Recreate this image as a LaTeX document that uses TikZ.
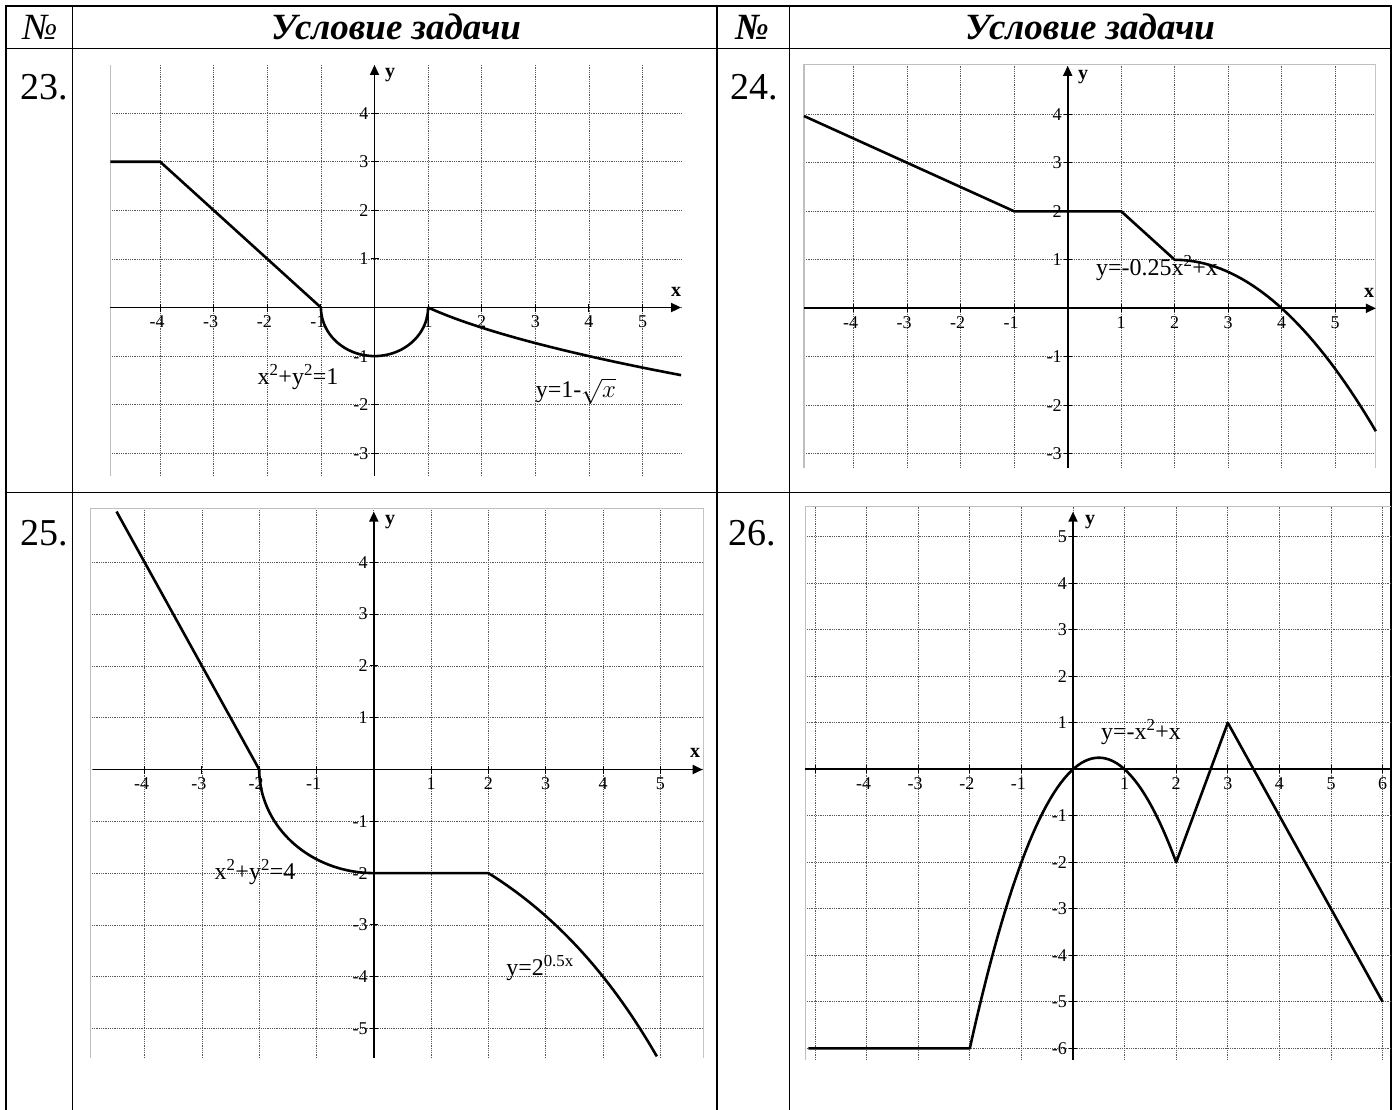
\documentclass[tikz,border=0pt]{standalone}
\usepackage{fontspec}
\setmainfont{Liberation Serif}
\usetikzlibrary{arrows.meta}
\tikzset{
 gridl/.style={black!65, line width=0.7pt, dash pattern=on 0.9pt off 0.9pt},
 framel/.style={black!25, line width=1.2pt},
 bluel/.style={blue!40!gray!35, line width=1.2pt},
 axisl/.style={line width=1.8pt},
 arrowax/.style={axisl, -{Triangle[length=10pt,width=9pt]}},
 curvel/.style={line width=2.6pt, line join=round},
 tickl/.style={line width=0.9pt},
 ticklab/.style={font=\fontsize{18}{18}\selectfont, inner sep=0pt},
 axlab/.style={font=\fontsize{20}{20}\selectfont\bfseries, inner sep=0pt},
 curvelab/.style={font=\fontsize{24}{24}\selectfont, inner sep=0pt},
 numlab/.style={font=\fontsize{38}{38}\selectfont, inner sep=0pt},
 headlab/.style={font=\fontsize{37}{37}\selectfont\bfseries\itshape, inner sep=0pt},
 headnum/.style={font=\fontsize{37}{37}\selectfont\itshape, inner sep=0pt},
 tablel/.style={line width=1.6pt},
}
\begin{document}
\begin{tikzpicture}[x=1pt,y=-1pt]
\useasboundingbox (0,0) rectangle (1398,1109);
\fill[white] (0,0) rectangle (1398,1109);

% ---------- table ----------
\draw[tablel] (6,1112) -- (6,5.7) -- (1390.7,5.7) -- (1390.7,1112);
\draw[tablel] (6,48.3) -- (1390.7,48.3);
\draw[tablel] (6,492.5) -- (1390.7,492.5);
\foreach \cx in {72.3,716.7,789.3} \draw[tablel] (\cx,5.7) -- (\cx,1112);

\node[headnum] (h1) at (40,27) {№};
\node[headlab] (h2) at (396,27) {Условие задачи};
\node[headlab] (h3) at (752,27) {№};
\node[headlab] (h4) at (1090,27) {Условие задачи};

\node[numlab] (n23) at (44,87) {23.};
\node[numlab] (n24) at (754,87) {24.};
\node[numlab] (n25) at (44,533) {25.};
\node[numlab] (n26) at (752,533) {26.};

% ---------- graph 23 ----------
\begin{scope}[shift={(374.5pt,-307.5pt)}, x=53.6pt, y=48.6pt]
 \foreach \i in {-4,...,5} \draw[gridl] (\i,-3.47) -- (\i,4.99);
 \foreach \j in {-3,...,4} \draw[gridl] (-4.93,\j) -- (5.72,\j);
 \draw[framel] (-4.93,-3.47) -- (-4.93,4.99);
 \draw[arrowax] (-4.93,0) -- (5.72,0);
 \draw[arrowax] (0,-3.47) -- (0,4.99);
 \foreach \i in {-4,...,-1,1,2,3,4,5} \draw[tickl] ([yshift=-4pt]\i,0) -- ([yshift=4pt]\i,0);
 \foreach \j in {-3,...,-1,1,2,3,4} \draw[tickl] ([xshift=-4pt]0,\j) -- ([xshift=4pt]0,\j);
 \foreach \i in {-4,...,-1} \node[ticklab] (a23x\i) at ([xshift=-3pt,yshift=-14pt]\i,0) {\i};
 \foreach \i in {1,...,5} \node[ticklab] (b23x\i) at ([yshift=-14pt]\i,0) {\i};
 \foreach \j in {-3,...,-1,1,2,3,4} \node[ticklab,anchor=east] (c23y\j) at ([xshift=-6pt]0,\j) {\j};
 \draw[curvel] (-4.93,3) -- (-4,3) -- (-1,0)
   -- plot[domain=180:360, samples=40] ({cos(\x)},{sin(\x)})
   -- plot[domain=1:5.72, samples=40] (\x,{1-sqrt(\x)});
\end{scope}
\node[axlab] (y23) at (390,75) {y};
\node[axlab] (x23) at (676,292) {x};
\node[curvelab] (l23a) at (298,377) {x\textsuperscript{2}+y\textsuperscript{2}=1};
\node[curvelab] (l23b) at (576,391) {y=1-$\sqrt{x}$};

% ---------- graph 24 ----------
\begin{scope}[shift={(1067.7pt,-308.3pt)}, x=53.5pt, y=48.5pt]
 \foreach \i in {-4,...,5} \draw[gridl] (\i,-3.29) -- (\i,5.03);
 \foreach \j in {-3,...,4} \draw[gridl] (-4.93,\j) -- (5.76,\j);
 \draw[framel] (-4.93,-3.29) -- (-4.93,5.03) -- (5.76,5.03);
 \draw[bluel] (5.76,5.03) -- (5.76,-3.29);
 \draw[arrowax] (-4.93,0) -- (5.76,0);
 \draw[arrowax] (0,-3.29) -- (0,5.0);
 \foreach \i in {-4,...,-1,1,2,3,4,5} \draw[tickl] ([yshift=-4pt]\i,0) -- ([yshift=4pt]\i,0);
 \foreach \j in {-3,...,-1,1,2,3,4} \draw[tickl] ([xshift=-4pt]0,\j) -- ([xshift=4pt]0,\j);
 \foreach \i in {-4,...,-1} \node[ticklab] (a24x\i) at ([xshift=-3pt,yshift=-14pt]\i,0) {\i};
 \foreach \i in {1,...,5} \node[ticklab] (b24x\i) at ([yshift=-14pt]\i,0) {\i};
 \foreach \j in {-3,...,-1,1,2,3,4} \node[ticklab,anchor=east] (c24y\j) at ([xshift=-6pt]0,\j) {\j};
 \draw[curvel] (-4.93,3.965) -- (-1,2) -- (1,2) -- (2,1)
   -- plot[domain=2:5.76, samples=40] (\x,{-0.25*\x*\x+\x});
\end{scope}
\node[axlab] (y24) at (1083,77) {y};
\node[axlab] (x24) at (1369,293) {x};
\node[curvelab] (l24) at (1157,268) {y=-0.25x\textsuperscript{2}+x};

% ---------- graph 25 ----------
\begin{scope}[shift={(373.8pt,-769.5pt)}, x=57.3pt, y=51.8pt]
 \foreach \i in {-4,...,5} \draw[gridl] (\i,-5.57) -- (\i,5.04);
 \foreach \j in {-5,...,4} \draw[gridl] (-4.95,\j) -- (5.75,\j);
 \draw[framel] (-4.95,-5.57) -- (-4.95,5.04) -- (5.75,5.04);
 \draw[bluel] (5.75,5.04) -- (5.75,-5.57);
 \draw[arrowax] (-4.9,0) -- (5.74,0);
 \draw[arrowax] (0,-5.57) -- (0,4.98);
 \foreach \i in {-4,...,-1,1,2,3,4,5} \draw[tickl] ([yshift=-4pt]\i,0) -- ([yshift=4pt]\i,0);
 \foreach \j in {-5,...,-1,1,2,3,4} \draw[tickl] ([xshift=-4pt]0,\j) -- ([xshift=4pt]0,\j);
 \foreach \i in {-4,...,-1} \node[ticklab] (a25x\i) at ([xshift=-3pt,yshift=-14pt]\i,0) {\i};
 \foreach \i in {1,...,5} \node[ticklab] (b25x\i) at ([yshift=-14pt]\i,0) {\i};
 \foreach \j in {-5,...,-1,1,2,3,4} \node[ticklab,anchor=east] (c25y\j) at ([xshift=-6pt]0,\j) {\j};
 \draw[curvel] (-4.49,4.98) -- (-2,0)
   -- plot[domain=180:270, samples=40] ({2*cos(\x)},{2*sin(\x)})
   -- (2,-2)
   -- plot[domain=2:4.94, samples=40] (\x,{-pow(2,0.5*\x)});
\end{scope}
\node[axlab] (y25) at (390,522) {y};
\node[axlab] (x25) at (695,753) {x};
\node[curvelab] (l25a) at (255,872) {x\textsuperscript{2}+y\textsuperscript{2}=4};
\node[curvelab] (l25b) at (540,968) {y=2\textsuperscript{0.5x}};

% ---------- graph 26 ----------
\begin{scope}[shift={(1073pt,-769.3pt)}, x=51.6pt, y=46.5pt]
 \foreach \i in {-5,...,6} \draw[gridl] (\i,-6.25) -- (\i,5.65);
 \foreach \j in {-6,...,5} \draw[gridl] (-5.19,\j) -- (6.16,\j);
 \draw[framel] (-5.19,-6.25) -- (-5.19,5.65) -- (6.16,5.65);
 \draw[axisl] (-5.19,0) -- (6.16,0);
 \draw[arrowax] (0,-6.25) -- (0,5.54);
 \foreach \i in {-5,...,-1,1,2,3,4,5,6} \draw[tickl] ([yshift=-4pt]\i,0) -- ([yshift=4pt]\i,0);
 \foreach \j in {-6,...,-1,1,2,3,4,5} \draw[tickl] ([xshift=-4pt]0,\j) -- ([xshift=4pt]0,\j);
 \foreach \i in {-4,...,-1} \node[ticklab] (a26x\i) at ([xshift=-3pt,yshift=-14pt]\i,0) {\i};
 \foreach \i in {1,...,6} \node[ticklab] (b26x\i) at ([yshift=-14pt]\i,0) {\i};
 \foreach \j in {-6,...,-1,1,2,3,4,5} \node[ticklab,anchor=east] (c26y\j) at ([xshift=-6pt]0,\j) {\j};
 \draw[curvel] (-5.13,-6) -- (-2,-6)
   -- plot[domain=-2:2, samples=60] (\x,{-\x*\x+\x})
   -- (3,1) -- (6,-5);
\end{scope}
\node[axlab] (y26) at (1090,522) {y};
\node[curvelab] (l26) at (1141,732) {y=-x\textsuperscript{2}+x};
\end{tikzpicture}
\end{document}
